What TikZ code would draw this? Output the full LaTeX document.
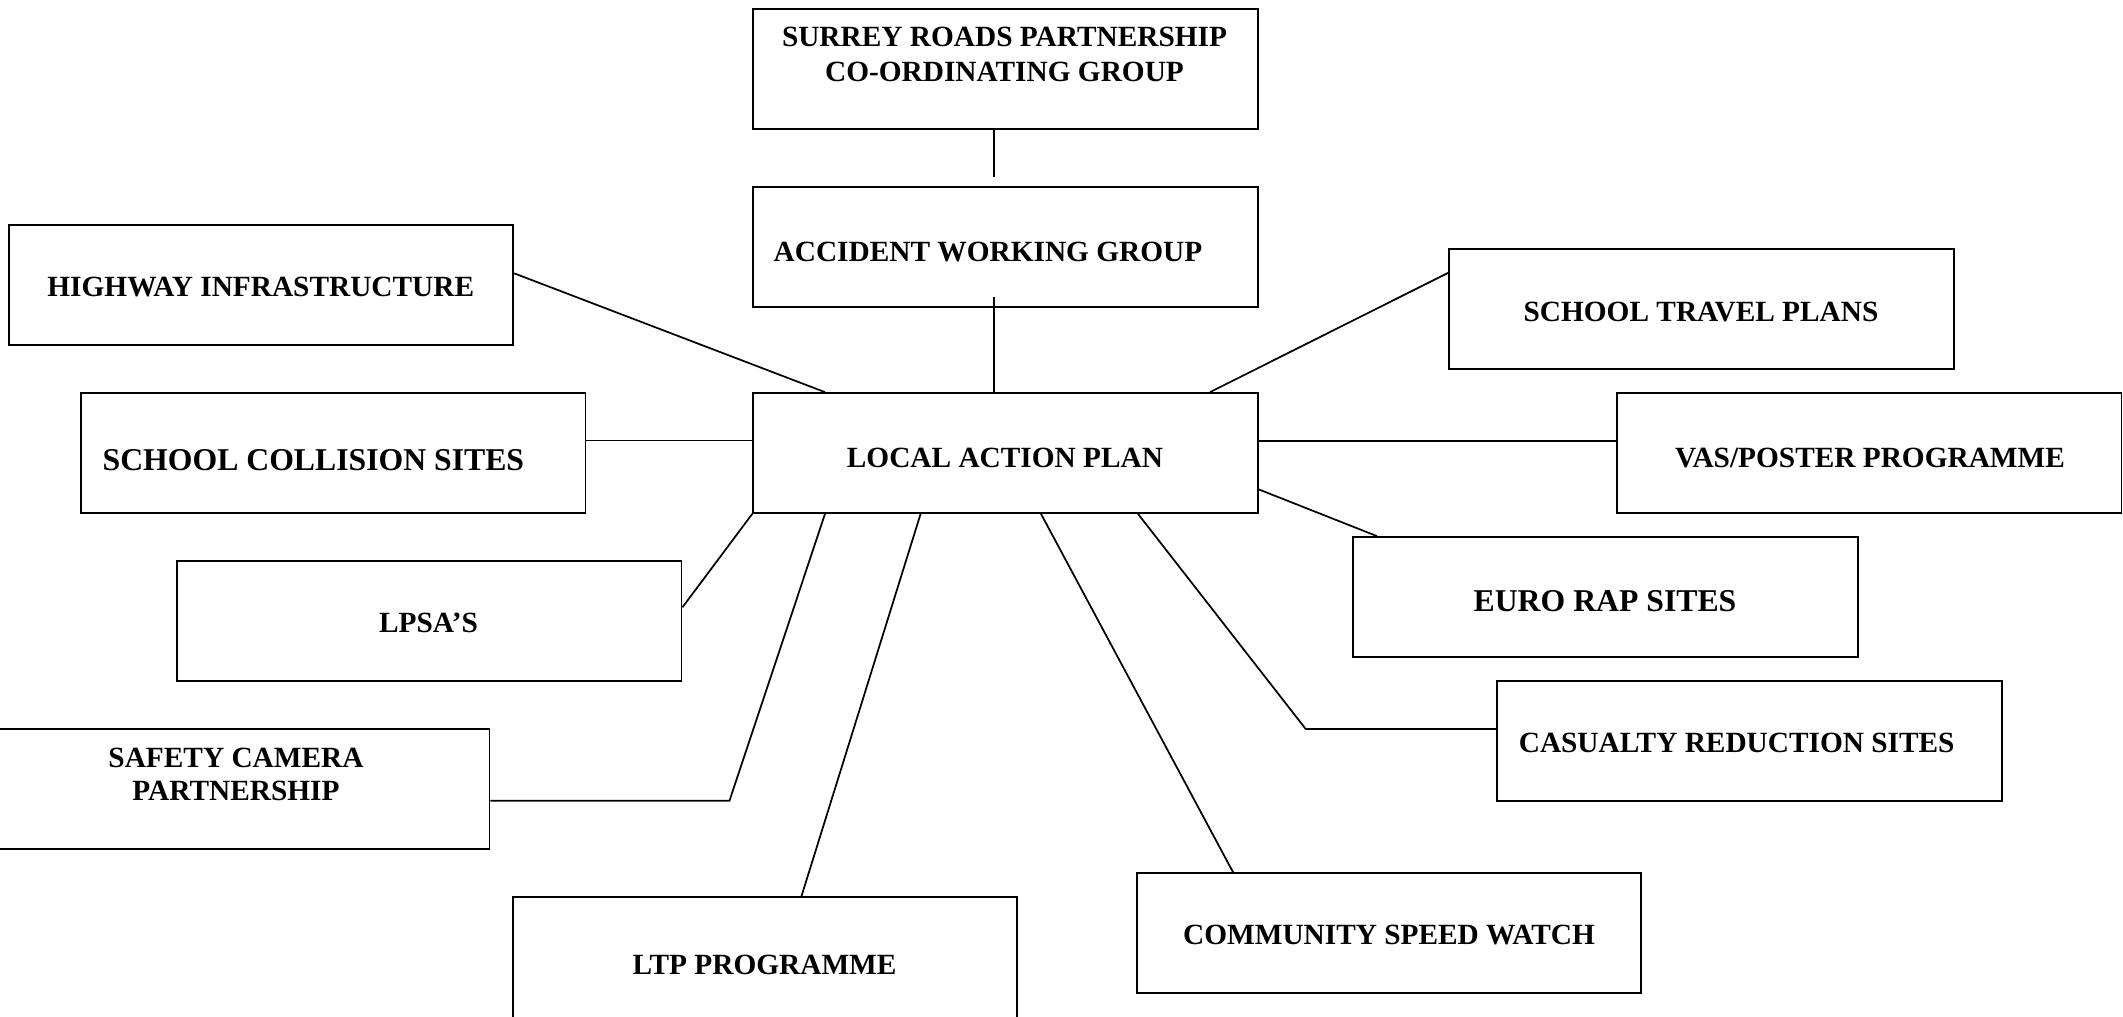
\documentclass[tikz,border=0pt]{standalone}
\usepackage{fontspec}
\setmainfont{Liberation Serif}
\begin{document}
\begin{tikzpicture}[x=0.375pt,y=-0.375pt,
  box/.style={draw, line width=0.65pt, minimum width=189.2pt, minimum height=45pt, inner sep=0pt},
  txt/.style={inner sep=0pt, font=\bfseries\fontsize{11}{13.1}\selectfont, text height=7.26pt, text depth=0pt},
  bigtxt/.style={inner sep=0pt, font=\bfseries\fontsize{11.9}{14}\selectfont, text height=7.85pt, text depth=0pt},
  twoline/.style={inner sep=0pt, align=center, font=\bfseries\fontsize{11}{13.1}\selectfont},
  link/.style={line width=0.65pt}]
\useasboundingbox (0,0) rectangle (2123,1016);
\clip (0,0) rectangle (2123,1016);

% boxes
\node[box] (surrey) at (1005.5,69) {};
\node[box] (accident) at (1005.5,247) {};
\node[box] (highway) at (261,285) {};
\node[box] (stp) at (1701.5,309) {};
\node[box] (scs) at (333.3,453) {};
\node[box] (lap) at (1005.4,453) {};
\node[box] (vas) at (1869.3,453) {};
\node[box] (lpsa) at (429.3,621) {};
\node[box] (euro) at (1605.5,597) {};
\node[box] (safety) at (237.3,789) {};
\node[box] (cas) at (1749.4,741) {};
\node[box, minimum height=52pt] (ltp) at (765,966.6) {};
\node[box] (comm) at (1389,933) {};

% texts
\node[twoline] (surreyt) at (1004.5,54.2) {SURREY ROADS PARTNERSHIP\\CO-ORDINATING GROUP};
\node[txt] (accidentt) at (988,252) {ACCIDENT WORKING GROUP};
\node[txt] (highwayt) at (260.8,287) {HIGHWAY INFRASTRUCTURE};
\node[txt] (stpt) at (1701,311.7) {SCHOOL TRAVEL PLANS};
\node[bigtxt] (scst) at (313.4,460.5) {SCHOOL COLLISION SITES};
\node[txt] (lapt) at (1005,458.3) {LOCAL ACTION PLAN};
\node[txt] (vast) at (1870,458.3) {VAS/POSTER PROGRAMME};
\node[txt] (lpsat) at (428.5,623.3) {LPSA’S};
\node[bigtxt] (eurot) at (1605,601.3) {EURO RAP SITES};
\node[twoline, font=\bfseries\fontsize{11}{12.5}\selectfont] (safetyt) at (236,774.2) {SAFETY CAMERA\\PARTNERSHIP};
\node[txt] (cast) at (1736.7,743.3) {CASUALTY REDUCTION SITES};
\node[txt] (ltpt) at (764.6,965) {LTP PROGRAMME};
\node[txt] (commt) at (1389,935) {COMMUNITY SPEED WATCH};

% free ends and bends
\coordinate (sa) at (994,177);
\coordinate (al) at (994,297);
\coordinate (sbend) at (729.5,800.7);
\coordinate (cbend) at (1305.7,729);

% connectors
\draw[link] (surrey.south -| sa) -- (sa);
\draw[link] (al) -- (lap.north -| al);
\draw[link] (highway.east |- 0,273.3) -- (lap.north -| 825,0);
\draw[link] (stp.west |- 0,272.7) -- (lap.north -| 1210,0);
\draw[link] (scs.east |- 0,440.5) -- (lap.west |- 0,440.5);
\draw[link] (lap.east |- 0,440.7) -- (vas.west |- 0,440.7);
\draw[link] (lap.east |- 0,489.3) -- (euro.north -| 1377,0);
\draw[link] (lpsa.east |- 0,607.3) -- (lap.south west);
\draw[link] (safety.east |- sbend) -- (sbend) -- (lap.south -| 825,0);
\draw[link] (ltp.north -| 801.4,0) -- (lap.south -| 920.6,0);
\draw[link] (comm.north -| 1233,0) -- (lap.south -| 1041,0);
\draw[link] (cas.west |- cbend) -- (cbend) -- (lap.south -| 1138,0);
\end{tikzpicture}
\end{document}
